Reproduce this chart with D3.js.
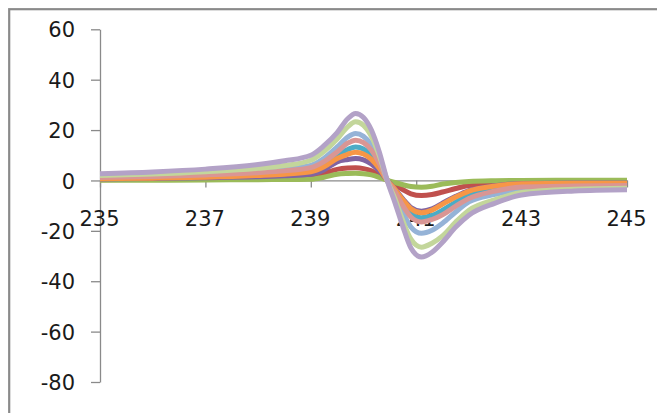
<!DOCTYPE html>
<html>
<head>
<meta charset="utf-8">
<script src="https://cdn.jsdelivr.net/npm/d3@7"></script>
<style>
  html, body { margin: 0; padding: 0; background: #fff; }
  svg { display: block; }
  .axis text { font-family: "DejaVu Sans", Verdana, sans-serif; font-size: 21px; fill: #1a1a1a; }
  .axis path, .axis line { stroke: #8a8a8a; stroke-width: 1.3; }
</style>
</head>
<body>
<svg id="chart" width="657" height="413"></svg>
<script>
// Positions sampled for every series
const xValues = [235, 236, 237, 238, 238.5, 239, 239.25, 239.5, 239.7, 239.85, 240, 240.15, 240.3,
                 240.45, 240.6, 240.75, 240.9, 241.1, 241.3, 241.5, 241.75, 242, 242.5, 243, 244, 245];

// Signal traces, one per series (drawn in this order, last on top)
const seriesRed      = [0.3, 0.4, 0.6, 0.9, 1.1, 1.7, 2.8, 4.4, 4.9, 5.0, 4.7, 3.8, 2.1, 0, -1.7, -3.7, -5.3, -6.0, -5.6, -4.6, -3.2, -2.0, -1.2, -0.8, -0.6, -0.5];
const seriesGreen    = [0.1, 0.1, 0.2, 0.3, 0.4, 0.5, 1.3, 2.5, 2.8, 2.9, 2.7, 2.2, 1.2, 0, -0.8, -1.7, -2.4, -2.7, -2.3, -1.4, -0.8, -0.4, -0.1, 0.0, 0.1, 0.1];
const seriesPurple   = [0.6, 0.8, 1.1, 1.5, 1.9, 2.5, 4.2, 7.4, 8.3, 8.7, 8.2, 6.5, 3.7, 0, -3.4, -7.4, -10.7, -12.2, -11.3, -9.0, -6.3, -4.0, -2.1, -1.2, -1.0, -1.0];
const seriesAqua     = [0.9, 1.2, 1.7, 2.4, 3.0, 4.0, 6.2, 10.0, 12.3, 13.3, 12.5, 10.0, 5.6, 0, -4.1, -9.0, -13.0, -14.8, -13.9, -11.8, -8.6, -6.0, -3.4, -1.9, -1.5, -1.4];
const seriesOrange   = [0.7, 0.9, 1.3, 2.0, 2.5, 3.4, 5.4, 8.7, 10.4, 11.2, 10.5, 8.4, 4.8, 0, -3.6, -7.8, -11.2, -12.8, -11.8, -9.4, -6.6, -4.2, -2.2, -1.3, -1.1, -1.1];
const seriesLtBlue   = [1.5, 2.0, 2.7, 3.7, 4.6, 6.0, 8.8, 13.3, 17.2, 18.6, 17.5, 14.0, 7.9, 0, -5.9, -12.8, -18.5, -21.0, -19.8, -17.0, -12.5, -8.5, -5.5, -3.6, -2.9, -2.7];
const seriesPink     = [1.2, 1.6, 2.2, 3.1, 3.8, 5.1, 7.5, 11.3, 14.8, 16.0, 15.0, 12.0, 6.8, 0, -4.6, -10.1, -14.5, -16.5, -15.5, -13.6, -10.2, -7.2, -4.2, -2.6, -2.2, -2.0];
const seriesLtGreen  = [2.0, 2.6, 3.5, 4.8, 5.9, 8.0, 11.5, 16.4, 21.3, 23.3, 21.9, 17.5, 9.8, 0, -7.4, -16.2, -23.3, -26.5, -24.9, -22.0, -16.5, -11.8, -7.6, -4.8, -3.5, -3.1];
const seriesLavender = [2.7, 3.4, 4.5, 6.3, 7.8, 10.0, 13.8, 19.0, 24.5, 26.6, 25.0, 20.0, 11.3, 0, -9.0, -18.5, -26.8, -30.4, -28.5, -24.5, -18.5, -13.8, -9.0, -5.8, -4.2, -3.7];

const seriesList   = [seriesRed, seriesGreen, seriesPurple, seriesAqua, seriesOrange,
                      seriesLtBlue, seriesPink, seriesLtGreen, seriesLavender];
const seriesColors = ["#C0504D", "#9BBB59", "#8064A2", "#4BACC6", "#F79646",
                      "#95B3D7", "#D99694", "#C3D69B", "#B3A2C7"];

// Axis ticks
const xTicks = [235, 237, 239, 241, 243, 245];
const yTicks = [-80, -60, -40, -20, 0, 20, 40, 60];

const svg = d3.select("#chart");

// Chart frame (runs off the right and bottom edges)
svg.append("rect")
  .attr("x", 9.2).attr("y", 9.2)
  .attr("width", 700).attr("height", 500)
  .attr("fill", "none")
  .attr("stroke", "#8a8a8a")
  .attr("stroke-width", 2.2);

const x = d3.scaleLinear().domain([235, 245]).range([100, 627]);
const y = d3.scaleLinear().domain([-80, 60]).range([382, 29.3]);

// Vertical axis
const yAxis = svg.append("g")
  .attr("class", "axis")
  .attr("transform", `translate(${x(235)},0)`)
  .call(d3.axisLeft(y).tickValues(yTicks).tickSize(9).tickSizeOuter(0)
        .tickPadding(16).tickFormat(d => String(d)));
yAxis.selectAll("text").attr("dy", "0.36em");

// Horizontal axis crossing at zero
const xAxis = svg.append("g")
  .attr("class", "axis")
  .attr("transform", `translate(0,${y(0)})`)
  .call(d3.axisBottom(x).tickValues(xTicks).tickSize(7).tickSizeOuter(0)
        .tickPadding(24).tickFormat(d => String(d)));
xAxis.selectAll("text").attr("dx", "-1");

// Curves
const line = d3.line()
  .x((d, i) => x(xValues[i]))
  .y(d => y(d))
  .curve(d3.curveMonotoneX);

svg.append("g")
  .selectAll("path")
  .data(seriesList)
  .join("path")
  .attr("d", d => line(d))
  .attr("fill", "none")
  .attr("stroke", (d, i) => seriesColors[i])
  .attr("stroke-width", 5)
  .attr("stroke-linejoin", "round")
  .attr("stroke-linecap", "butt");
</script>
</body>
</html>
